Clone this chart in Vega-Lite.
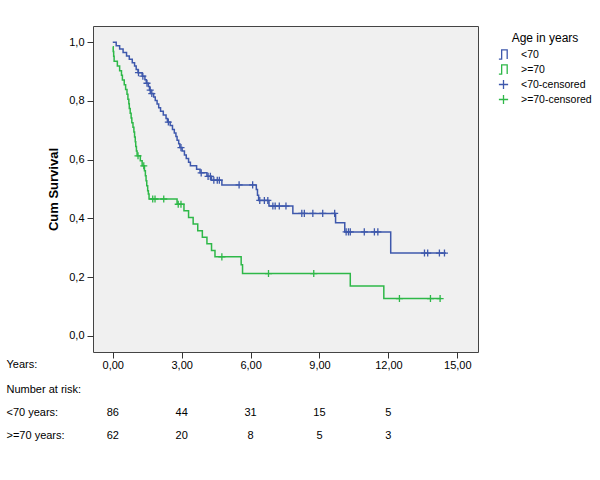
{
  "$schema": "https://vega.github.io/schema/vega-lite/v6.json",
  "padding": {"top": 25, "left": 5, "right": 5, "bottom": 5},
  "spacing": 7,
  "config": {
    "font": "Liberation Sans",
    "view": {"stroke": null},
    "axis": {"labelFont": "Liberation Sans", "titleFont": "Liberation Sans", "labelColor": "#000", "titleColor": "#000", "grid": false, "tickColor": "#333"},
    "legend": {"labelFont": "Liberation Sans", "titleFont": "Liberation Sans", "labelColor": "#000", "titleColor": "#000"}
  },
  "datasets": {
    "km": [
      {"series": "<70", "t": 0, "s": 1.0},
      {"series": "<70", "t": 0.15, "s": 0.988},
      {"series": "<70", "t": 0.3, "s": 0.977},
      {"series": "<70", "t": 0.45, "s": 0.965},
      {"series": "<70", "t": 0.6, "s": 0.953},
      {"series": "<70", "t": 0.72, "s": 0.942},
      {"series": "<70", "t": 0.85, "s": 0.930},
      {"series": "<70", "t": 0.95, "s": 0.919},
      {"series": "<70", "t": 1.02, "s": 0.907},
      {"series": "<70", "t": 1.1, "s": 0.896},
      {"series": "<70", "t": 1.28, "s": 0.884},
      {"series": "<70", "t": 1.4, "s": 0.872},
      {"series": "<70", "t": 1.46, "s": 0.860},
      {"series": "<70", "t": 1.55, "s": 0.849},
      {"series": "<70", "t": 1.6, "s": 0.837},
      {"series": "<70", "t": 1.66, "s": 0.825},
      {"series": "<70", "t": 1.78, "s": 0.813},
      {"series": "<70", "t": 1.85, "s": 0.801},
      {"series": "<70", "t": 1.93, "s": 0.789},
      {"series": "<70", "t": 2.0, "s": 0.777},
      {"series": "<70", "t": 2.08, "s": 0.765},
      {"series": "<70", "t": 2.2, "s": 0.752},
      {"series": "<70", "t": 2.32, "s": 0.740},
      {"series": "<70", "t": 2.38, "s": 0.728},
      {"series": "<70", "t": 2.5, "s": 0.716},
      {"series": "<70", "t": 2.6, "s": 0.703},
      {"series": "<70", "t": 2.68, "s": 0.691},
      {"series": "<70", "t": 2.75, "s": 0.679},
      {"series": "<70", "t": 2.8, "s": 0.666},
      {"series": "<70", "t": 2.87, "s": 0.654},
      {"series": "<70", "t": 2.92, "s": 0.641},
      {"series": "<70", "t": 3.02, "s": 0.629},
      {"series": "<70", "t": 3.12, "s": 0.616},
      {"series": "<70", "t": 3.2, "s": 0.604},
      {"series": "<70", "t": 3.3, "s": 0.591},
      {"series": "<70", "t": 3.38, "s": 0.579},
      {"series": "<70", "t": 3.65, "s": 0.567},
      {"series": "<70", "t": 3.8, "s": 0.555},
      {"series": "<70", "t": 4.1, "s": 0.543},
      {"series": "<70", "t": 4.3, "s": 0.530},
      {"series": "<70", "t": 4.75, "s": 0.514},
      {"series": "<70", "t": 6.25, "s": 0.498},
      {"series": "<70", "t": 6.3, "s": 0.479},
      {"series": "<70", "t": 6.35, "s": 0.461},
      {"series": "<70", "t": 6.8, "s": 0.442},
      {"series": "<70", "t": 7.84, "s": 0.417},
      {"series": "<70", "t": 9.7, "s": 0.385},
      {"series": "<70", "t": 10.1, "s": 0.354},
      {"series": "<70", "t": 12.1, "s": 0.282},
      {"series": "<70", "t": 14.5, "s": 0.282},
      {"series": ">=70", "t": 0, "s": 0.984},
      {"series": ">=70", "t": 0.02, "s": 0.968},
      {"series": ">=70", "t": 0.04, "s": 0.952},
      {"series": ">=70", "t": 0.06, "s": 0.935},
      {"series": ">=70", "t": 0.2, "s": 0.919},
      {"series": ">=70", "t": 0.3, "s": 0.903},
      {"series": ">=70", "t": 0.38, "s": 0.887},
      {"series": ">=70", "t": 0.42, "s": 0.871},
      {"series": ">=70", "t": 0.5, "s": 0.855},
      {"series": ">=70", "t": 0.56, "s": 0.839},
      {"series": ">=70", "t": 0.62, "s": 0.823},
      {"series": ">=70", "t": 0.66, "s": 0.806},
      {"series": ">=70", "t": 0.7, "s": 0.790},
      {"series": ">=70", "t": 0.72, "s": 0.774},
      {"series": ">=70", "t": 0.76, "s": 0.758},
      {"series": ">=70", "t": 0.8, "s": 0.742},
      {"series": ">=70", "t": 0.83, "s": 0.726},
      {"series": ">=70", "t": 0.88, "s": 0.710},
      {"series": ">=70", "t": 0.92, "s": 0.694},
      {"series": ">=70", "t": 0.95, "s": 0.677},
      {"series": ">=70", "t": 0.98, "s": 0.661},
      {"series": ">=70", "t": 1.0, "s": 0.645},
      {"series": ">=70", "t": 1.03, "s": 0.629},
      {"series": ">=70", "t": 1.06, "s": 0.613},
      {"series": ">=70", "t": 1.2, "s": 0.596},
      {"series": ">=70", "t": 1.28, "s": 0.579},
      {"series": ">=70", "t": 1.38, "s": 0.562},
      {"series": ">=70", "t": 1.42, "s": 0.545},
      {"series": ">=70", "t": 1.45, "s": 0.528},
      {"series": ">=70", "t": 1.48, "s": 0.511},
      {"series": ">=70", "t": 1.52, "s": 0.494},
      {"series": ">=70", "t": 1.55, "s": 0.483},
      {"series": ">=70", "t": 1.58, "s": 0.466},
      {"series": ">=70", "t": 2.8, "s": 0.448},
      {"series": ">=70", "t": 3.1, "s": 0.426},
      {"series": ">=70", "t": 3.3, "s": 0.403},
      {"series": ">=70", "t": 3.5, "s": 0.381},
      {"series": ">=70", "t": 3.7, "s": 0.358},
      {"series": ">=70", "t": 3.9, "s": 0.336},
      {"series": ">=70", "t": 4.1, "s": 0.314},
      {"series": ">=70", "t": 4.3, "s": 0.291},
      {"series": ">=70", "t": 4.45, "s": 0.269},
      {"series": ">=70", "t": 5.59, "s": 0.242},
      {"series": ">=70", "t": 5.65, "s": 0.212},
      {"series": ">=70", "t": 10.34, "s": 0.170},
      {"series": ">=70", "t": 11.8, "s": 0.127},
      {"series": ">=70", "t": 14.3, "s": 0.127}
    ],
    "cens": [
      {"series": "<70-censored", "t": 1.12, "s": 0.896},
      {"series": "<70-censored", "t": 1.31, "s": 0.884},
      {"series": "<70-censored", "t": 1.49, "s": 0.860},
      {"series": "<70-censored", "t": 1.63, "s": 0.837},
      {"series": "<70-censored", "t": 1.7, "s": 0.825},
      {"series": "<70-censored", "t": 2.42, "s": 0.728},
      {"series": "<70-censored", "t": 2.97, "s": 0.641},
      {"series": "<70-censored", "t": 3.85, "s": 0.555},
      {"series": "<70-censored", "t": 4.15, "s": 0.543},
      {"series": "<70-censored", "t": 4.25, "s": 0.543},
      {"series": "<70-censored", "t": 4.4, "s": 0.530},
      {"series": "<70-censored", "t": 4.55, "s": 0.530},
      {"series": "<70-censored", "t": 4.64, "s": 0.530},
      {"series": "<70-censored", "t": 5.5, "s": 0.514},
      {"series": "<70-censored", "t": 6.09, "s": 0.514},
      {"series": "<70-censored", "t": 6.4, "s": 0.461},
      {"series": "<70-censored", "t": 6.6, "s": 0.461},
      {"series": "<70-censored", "t": 6.75, "s": 0.461},
      {"series": "<70-censored", "t": 6.97, "s": 0.442},
      {"series": "<70-censored", "t": 7.07, "s": 0.442},
      {"series": "<70-censored", "t": 7.25, "s": 0.442},
      {"series": "<70-censored", "t": 7.54, "s": 0.442},
      {"series": "<70-censored", "t": 8.23, "s": 0.417},
      {"series": "<70-censored", "t": 8.34, "s": 0.417},
      {"series": "<70-censored", "t": 8.71, "s": 0.417},
      {"series": "<70-censored", "t": 9.14, "s": 0.417},
      {"series": "<70-censored", "t": 9.66, "s": 0.417},
      {"series": "<70-censored", "t": 10.16, "s": 0.354},
      {"series": "<70-censored", "t": 10.26, "s": 0.354},
      {"series": "<70-censored", "t": 10.34, "s": 0.354},
      {"series": "<70-censored", "t": 10.95, "s": 0.354},
      {"series": "<70-censored", "t": 11.39, "s": 0.354},
      {"series": "<70-censored", "t": 11.54, "s": 0.354},
      {"series": "<70-censored", "t": 13.57, "s": 0.282},
      {"series": "<70-censored", "t": 13.71, "s": 0.282},
      {"series": "<70-censored", "t": 14.22, "s": 0.282},
      {"series": "<70-censored", "t": 14.44, "s": 0.282},
      {"series": ">=70-censored", "t": 1.1, "s": 0.613},
      {"series": ">=70-censored", "t": 1.35, "s": 0.579},
      {"series": ">=70-censored", "t": 1.74, "s": 0.466},
      {"series": ">=70-censored", "t": 1.84, "s": 0.466},
      {"series": ">=70-censored", "t": 2.22, "s": 0.466},
      {"series": ">=70-censored", "t": 2.85, "s": 0.448},
      {"series": ">=70-censored", "t": 2.97, "s": 0.448},
      {"series": ">=70-censored", "t": 4.75, "s": 0.269},
      {"series": ">=70-censored", "t": 6.78, "s": 0.212},
      {"series": ">=70-censored", "t": 8.75, "s": 0.212},
      {"series": ">=70-censored", "t": 12.48, "s": 0.127},
      {"series": ">=70-censored", "t": 13.83, "s": 0.127},
      {"series": ">=70-censored", "t": 14.25, "s": 0.127}
    ],
    "risk": [
      {"row": "<70 years:", "t": 0, "n": 86},
      {"row": "<70 years:", "t": 3, "n": 44},
      {"row": "<70 years:", "t": 6, "n": 31},
      {"row": "<70 years:", "t": 9, "n": 15},
      {"row": "<70 years:", "t": 12, "n": 5},
      {"row": ">=70 years:", "t": 0, "n": 62},
      {"row": ">=70 years:", "t": 3, "n": 20},
      {"row": ">=70 years:", "t": 6, "n": 8},
      {"row": ">=70 years:", "t": 9, "n": 5},
      {"row": ">=70 years:", "t": 12, "n": 3}
    ]
  },
  "vconcat": [
    {
      "width": 385,
      "height": 326,
      "view": {"fill": "#F0F0F0", "stroke": "#444", "strokeWidth": 1},
      "layer": [
        {
          "data": {"name": "km"},
          "mark": {"type": "line", "interpolate": "step-after", "strokeWidth": 1.5},
          "encoding": {
            "x": {
              "field": "t", "type": "quantitative",
              "scale": {"domain": [-0.86, 15.9], "nice": false, "zero": false},
              "axis": {
                "values": [0, 3, 6, 9, 12, 15],
                "labelExpr": "replace(format(datum.value,'.2f'),'.',',')",
                "title": "Years:", "titleX": -87, "titleY": 12, "titleAlign": "left", "titleBaseline": "middle",
                "titleFontWeight": "normal", "titleFontSize": 11,
                "tickSize": 6, "labelPadding": 1, "labelFontSize": 11, "domain": false
              }
            },
            "y": {
              "field": "s", "type": "quantitative",
              "scale": {"domain": [-0.055, 1.055], "nice": false, "zero": false},
              "axis": {
                "values": [0, 0.2, 0.4, 0.6, 0.8, 1.0],
                "labelExpr": "replace(format(datum.value,'.1f'),'.',',')",
                "title": "Cum Survival", "titleFontSize": 13, "titleFontWeight": "bold", "titlePadding": 8,
                "tickSize": 6, "labelPadding": 3, "labelFontSize": 11, "domain": false
              }
            },
            "color": {
              "field": "series", "type": "nominal",
              "scale": {"domain": ["<70", ">=70", "<70-censored", ">=70-censored"], "range": ["#3E58AC", "#2EB848", "#3E58AC", "#2EB848"]},
              "legend": null
            }
          }
        },
        {
          "data": {"name": "cens"},
          "mark": {"type": "point", "filled": false, "size": 50, "strokeWidth": 1.3, "opacity": 1},
          "encoding": {
            "x": {"field": "t", "type": "quantitative"},
            "y": {"field": "s", "type": "quantitative"},
            "color": {
              "field": "series", "type": "nominal",
              "scale": {"domain": ["<70", ">=70", "<70-censored", ">=70-censored"], "range": ["#3E58AC", "#2EB848", "#3E58AC", "#2EB848"]},
              "legend": {
                "title": "Age in years", "orient": "right", "offset": 13, "padding": 7,
                "titleFontWeight": "normal", "titleFontSize": 12, "titleAnchor": "middle", "titlePadding": 4,
                "labelFontSize": 10.5, "labelOffset": 12, "rowPadding": 0,
                "symbolSize": 85, "symbolStrokeWidth": 1.3
              }
            },
            "shape": {
              "field": "series", "type": "nominal",
              "scale": {"domain": ["<70", ">=70", "<70-censored", ">=70-censored"], "range": ["M-1,1L-0.4,1L-0.4,-1L0.8,-1L0.8,1", "M-1,1L-0.4,1L-0.4,-1L0.8,-1L0.8,1", "M-1,0L1,0M0,-1L0,1", "M-1,0L1,0M0,-1L0,1"]},
              "legend": {
                "title": "Age in years", "orient": "right", "offset": 13, "padding": 7,
                "titleFontWeight": "normal", "titleFontSize": 12, "titleAnchor": "middle", "titlePadding": 4,
                "labelFontSize": 10.5, "labelOffset": 12, "rowPadding": 0,
                "symbolSize": 85, "symbolStrokeWidth": 1.3
              }
            }
          }
        }
      ],
      "resolve": {"legend": {"color": "independent", "shape": "independent"}}
    },
    {
      "width": 385,
      "height": 69,
      "view": {"stroke": null},
      "data": {"name": "risk"},
      "mark": {"type": "text", "fontSize": 11, "font": "Liberation Sans", "color": "#000"},
      "encoding": {
        "x": {"field": "t", "type": "quantitative", "scale": {"domain": [-0.86, 15.9], "nice": false, "zero": false}, "axis": null},
        "y": {
          "field": "row", "type": "nominal",
          "scale": {"domain": ["Number at risk:", "<70 years:", ">=70 years:"]},
          "axis": {"title": null, "ticks": false, "tickSize": 0, "domain": false, "labelAlign": "left", "labelPadding": 87, "labelFontSize": 11, "labelColor": "#000"}
        },
        "text": {"field": "n", "type": "quantitative"}
      }
    }
  ]
}
